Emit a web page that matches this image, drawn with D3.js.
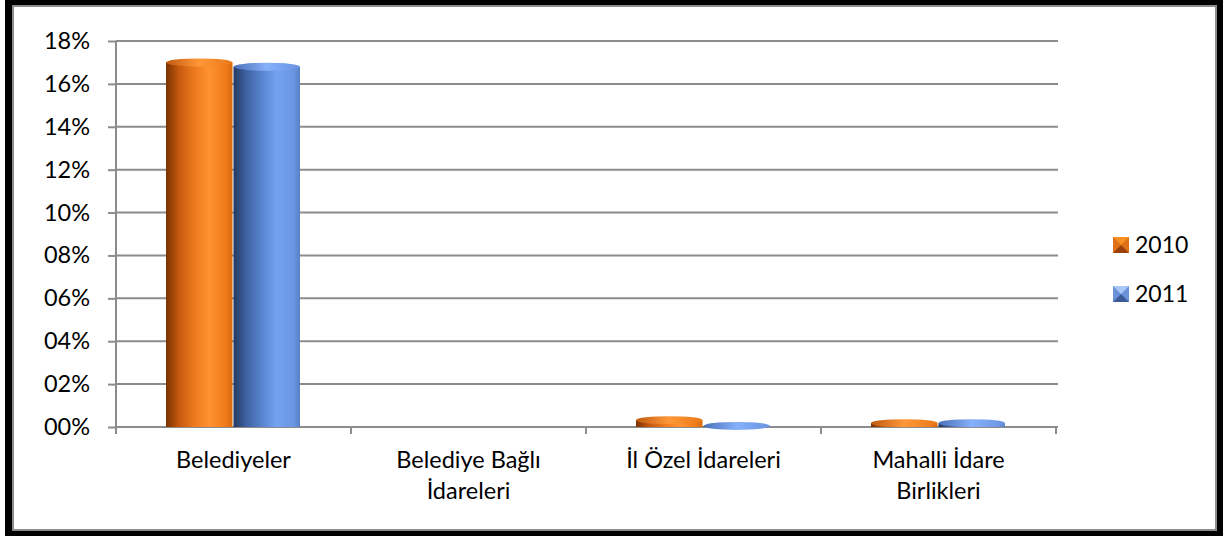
<!DOCTYPE html>
<html><head><meta charset="utf-8">
<script src="https://cdn.jsdelivr.net/npm/d3@7"></script>
<style>body{margin:0;background:#fff}svg{display:block}text{font-family:Lato,"Open Sans",sans-serif;fill:#000}</style>
</head><body><svg id="c" width="1223" height="536"></svg>
<script>
const categories = [["Belediyeler"], ["Belediye Bağlı", "İdareleri"], ["İl Özel İdareleri"], ["Mahalli İdare", "Birlikleri"]];
const seriesNames = ["2010", "2011"];
const values2010 = [17.0, 0, 0.32, 0.18];
const values2011 = [16.8, 0, 0.05, 0.18];
const yTicks = [0, 2, 4, 6, 8, 10, 12, 14, 16, 18];

const svg = d3.select("#c");
// frame
svg.append("rect").attr("x",5).attr("y",0).attr("width",1218).attr("height",536).attr("fill","#000");
svg.append("rect").attr("x",13).attr("y",6).attr("width",1203).attr("height",524).attr("fill","#fff").attr("stroke","#8c8c8c").attr("stroke-width",2);

const defs = svg.append("defs");
function cyl(id, stops){
  const g = defs.append("linearGradient").attr("id",id).attr("x1","0%").attr("x2","100%").attr("y1","0%").attr("y2","0%");
  stops.forEach(s=>g.append("stop").attr("offset",s[0]).attr("stop-color",s[1]));
}
cyl("g2010",[["0%","#7a3300"],["20%","#c85a10"],["45%","#f07d20"],["65%","#ff9232"],["90%","#f07a18"],["100%","#d86a10"]]);
cyl("g2011",[["0%","#243a63"],["20%","#3f63a3"],["45%","#5b87d2"],["65%","#74a2f2"],["90%","#6a96e2"],["100%","#5780c8"]]);
cyl("t2010",[["0%","#c05a10"],["50%","#ff9838"],["100%","#e87818"]]);
cyl("t2011",[["0%","#4a70b8"],["50%","#86b0fa"],["100%","#6a94e0"]]);

const x0 = d3.scaleBand().domain(d3.range(categories.length)).range([116,1056]);
const x1 = d3.scaleBand().domain(seriesNames).range([50,185]).paddingInner(0.0);
const y = d3.scaleLinear().domain([0,18]).range([427,41]);

// gridlines
svg.append("g").selectAll("line").data(yTicks.filter(d=>d>0)).join("line")
  .attr("x1",116).attr("x2",1058).attr("y1",d=>y(d)).attr("y2",d=>y(d))
  .attr("stroke","#8c8c8c").attr("stroke-width",2);

// y axis
const ya = svg.append("g").attr("transform","translate(116,0)")
  .call(d3.axisLeft(y).tickValues(yTicks).tickSize(8).tickPadding(18).tickFormat(d=>d3.format("02d")(d)+"%"));
ya.select(".domain").attr("stroke","#8c8c8c").attr("stroke-width",2).attr("d","M0,41V428");
ya.selectAll(".tick line").attr("stroke","#8c8c8c").attr("stroke-width",2);
ya.selectAll("text").attr("font-size",23.5).style("font-family","Lato,'Open Sans',sans-serif").attr("fill","#000");

// x axis baseline and ticks
svg.append("line").attr("x1",115).attr("x2",1058).attr("y1",427).attr("y2",427).attr("stroke","#8c8c8c").attr("stroke-width",2);
svg.append("g").selectAll("line").data(d3.range(categories.length+1)).join("line")
  .attr("x1",d=>d<categories.length?x0(d):x0.range()[1]).attr("x2",d=>d<categories.length?x0(d):x0.range()[1])
  .attr("y1",427).attr("y2",434).attr("stroke","#8c8c8c").attr("stroke-width",2);

// bars
const all = [values2010, values2011];
const ry = 4;
seriesNames.forEach((s,si)=>{
  const g = svg.append("g");
  all[si].forEach((v,ci)=>{
    if(v<=0) return;
    const bx = x0(ci)+x1(s), bw = x1.bandwidth()-1;
    const top = y(v);
    g.append("rect").attr("x",bx).attr("y",top).attr("width",bw).attr("height",y(0)-top).attr("fill",`url(#g${s})`);
    g.append("ellipse").attr("cx",bx+bw/2).attr("cy",top).attr("rx",bw/2).attr("ry",ry).attr("fill",`url(#t${s})`);
  });
});

// x labels
const xl = svg.append("g");
categories.forEach((lines,ci)=>{
  const t = xl.append("text").attr("text-anchor","middle").attr("font-size",23.5)
    .attr("x",x0(ci)+x0.bandwidth()/2).attr("y",468);
  lines.forEach((l,li)=>t.append("tspan").attr("x",x0(ci)+x0.bandwidth()/2).attr("dy",li?31:0).text(l));
});

// legend
const lgCols = {"2010":["#f5901e","#b85410","#e07018","#9a4008"],"2011":["#a8c8f8","#4a6fb0","#6a92d8","#3a5a98"]};
const lg = svg.append("g");
seriesNames.forEach((s,i)=>{
  const ly = 237 + i*49, lx = 1113, sz = 16;
  const c = lgCols[s];
  lg.append("rect").attr("x",lx).attr("y",ly).attr("width",sz).attr("height",sz).attr("fill",c[2]);
  lg.append("path").attr("d",`M${lx},${ly}L${lx+sz},${ly}L${lx+sz/2},${ly+sz/2}Z`).attr("fill",c[0]);
  lg.append("path").attr("d",`M${lx},${ly+sz}L${lx+sz},${ly+sz}L${lx+sz/2},${ly+sz/2}Z`).attr("fill",c[3]);
  lg.append("text").attr("x",1135).attr("y",ly+15.5).attr("font-size",23).text(s);
});
</script></body></html>
